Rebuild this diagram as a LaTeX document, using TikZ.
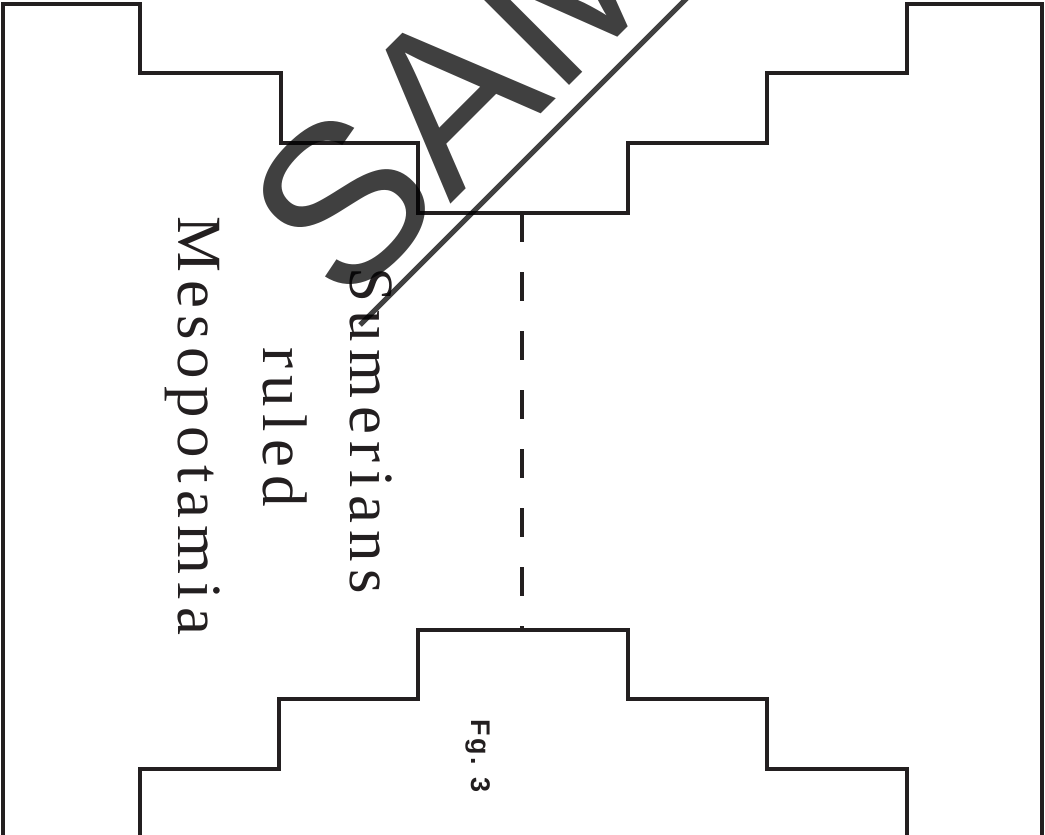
\documentclass[tikz,border=0pt]{standalone}
\usepackage{fontspec}
\setmainfont{Liberation Serif}
\newfontfamily\wmfont{Liberation Sans}
\newfontfamily\capfont[LetterSpace=12]{Liberation Serif}
\newfontfamily\fgfont[LetterSpace=9]{Liberation Sans}
\definecolor{ink}{HTML}{231F20}
\begin{document}
\begin{tikzpicture}[x=1pt,y=-1pt,
  outline/.style={draw=ink,line width=3.8pt,line join=miter},
  guide/.style={draw=ink,line width=4pt,dash pattern=on 29pt off 30pt},
  caption/.style={inner sep=0pt,anchor=base,rotate=-90,text=ink,font=\capfont\fontsize{63}{86}\selectfont},
  figlabel/.style={inner sep=0pt,anchor=base,rotate=-90,text=ink,font=\fgfont\bfseries\fontsize{27}{32}\selectfont},
  watermark/.style={inner sep=0pt,anchor=base west,rotate=45,text=black,text opacity=0.75,font=\wmfont\fontsize{225}{225}\selectfont},
  wmline/.style={draw=black,draw opacity=0.75,line width=5pt}]
\useasboundingbox (0,0) rectangle (1045,835);
\clip (0,0) rectangle (1045,835);
% upper stepped outline
\draw[outline] (3,840) -- (3,4) -- (140,4) -- (140,73) -- (281,73) -- (281,143)
  -- (418,143) -- (418,213) -- (628,213) -- (628,143) -- (767,143) -- (767,73)
  -- (907,73) -- (907,4) -- (1042,4) -- (1042,840);
% lower stepped outline
\draw[outline] (140,840) -- (140,769) -- (279,769) -- (279,699) -- (418,699)
  -- (418,630) -- (628,630) -- (628,699) -- (767,699) -- (767,769) -- (907,769) -- (907,840);
% fold line
\coordinate (ftop) at (522,213);
\coordinate (fbot) at (522,630);
\draw[guide] (ftop) -- (fbot);
% texts
\node[caption] (l1) at (350,431) {Sumerians};
\node[caption] (l2) at (263,427) {ruled};
\node[caption] (l3) at (178,426) {Mesopotamia};
\node[figlabel] (fg) at (471,756) {Fg. 3};
% watermark
\node[watermark] (wm) at (344,311) {SAMPLE};
\coordinate (ul1) at (360,325);
\coordinate (ul2) at (1100,-415);
\draw[wmline] (ul1) -- (ul2);
\end{tikzpicture}
\end{document}
